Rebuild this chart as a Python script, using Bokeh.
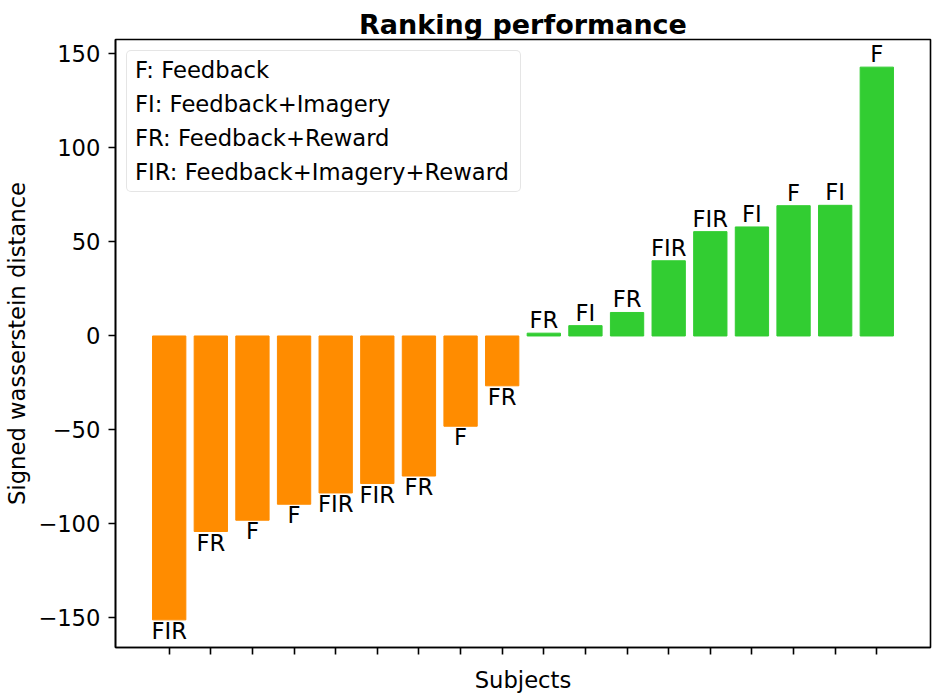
from bokeh.plotting import figure
from bokeh.models import Range1d, FixedTicker, Legend, LegendItem, ColumnDataSource
from bokeh.core.properties import value
from bokeh.embed import file_html
from bokeh.resources import INLINE

# ---- data ----
subjects = list(range(18))
distances = [-151, -104, -98, -89.5, -83.5, -78.5, -74.5, -48, -26.5,
             1.5, 5.5, 12.5, 40, 55.5, 58, 69.3, 69.5, 143]
groups = ["FIR", "FR", "F", "F", "FIR", "FIR", "FR", "F", "FR",
          "FR", "FI", "FR", "FIR", "FIR", "FI", "F", "FI", "F"]
legend_labels = ["F: Feedback", "FI: Feedback+Imagery",
                 "FR: Feedback+Reward", "FIR: Feedback+Imagery+Reward"]
y_ticks = [-150, -100, -50, 0, 50, 100, 150]

NEG = "#FF8C00"
POS = "#32CD32"
FONT = "DejaVu Sans"
FS = "22.7px"

colors = [NEG if v < 0 else POS for v in distances]

# matplotlib-style 5% margins
lo, hi = min(distances), max(distances)
pad = (hi - lo) * 0.05
xlo, xhi = -0.4, len(subjects) - 1 + 0.4
xpad = (xhi - xlo) * 0.05

p = figure(frame_width=815, frame_height=608,
           x_range=Range1d(xlo - xpad, xhi + xpad),
           y_range=Range1d(lo - pad, hi + pad),
           output_backend="svg", toolbar_location=None,
           min_border_left=115, min_border_top=39,
           min_border_right=3, min_border_bottom=40,
           title="Ranking performance")

p.title.align = "center"
p.title.text_font = FONT
p.title.text_font_size = "27px"
p.title.text_font_style = "bold"
p.title.text_color = "black"
p.title.standoff = 0
p.title.offset = 0

src = ColumnDataSource(dict(x=subjects, top=distances, color=colors, label=groups))
p.vbar(x="x", top="top", width=0.8, fill_color="color", line_color="color", source=src)

neg = ColumnDataSource(dict(x=[s for s, v in zip(subjects, distances) if v < 0],
                            y=[v for v in distances if v < 0],
                            t=[g for g, v in zip(groups, distances) if v < 0]))
pos = ColumnDataSource(dict(x=[s for s, v in zip(subjects, distances) if v >= 0],
                            y=[v for v in distances if v >= 0],
                            t=[g for g, v in zip(groups, distances) if v >= 0]))
p.text(x="x", y="y", text="t", source=neg, text_align="center", text_baseline="top",
       y_offset=-2,
       text_font=value(FONT), text_font_size=FS, text_color="black")
p.text(x="x", y="y", text="t", source=pos, text_align="center", text_baseline="bottom",
       text_font=value(FONT), text_font_size=FS, text_color="black")

# legend (text only)
items = []
for lab in legend_labels:
    r = p.scatter(x=[], y=[], alpha=0)
    items.append(LegendItem(label=lab, renderers=[r]))
leg = Legend(items=items, location="top_left")
leg.glyph_width = 0
leg.label_standoff = 2
leg.label_width = 379
leg.label_text_font = FONT
leg.label_text_font_size = FS
leg.label_text_color = "black"
leg.margin = 11
leg.padding = 6
leg.spacing = 8
leg.border_line_color = "#cccccc"
leg.border_line_width = 1.5
leg.background_fill_alpha = 0.8
if "border_radius" in Legend.properties():
    leg.border_radius = 5
p.add_layout(leg)

# axes
p.xgrid.visible = False
p.ygrid.visible = False
p.outline_line_color = "black"
p.outline_line_width = 1.6

p.xaxis.ticker = FixedTicker(ticks=subjects)
p.xaxis.major_label_overrides = {s: "" for s in subjects}
p.xaxis.major_label_text_font_size = "1px"
p.xaxis.major_label_standoff = 0
p.xaxis.axis_label = "Subjects"
p.xaxis.axis_label_standoff = 12

p.yaxis.ticker = FixedTicker(ticks=y_ticks)
p.yaxis.major_label_overrides = {t: str(t).replace("-", "\u2212") for t in y_ticks}
p.yaxis.axis_label = "Signed wasserstein distance"
p.yaxis.axis_label_standoff = 5
p.yaxis.major_label_standoff = 8

for ax in (p.xaxis[0], p.yaxis[0]):
    ax.axis_line_color = "black"
    ax.axis_line_width = 1.6
    ax.major_tick_line_color = "black"
    ax.major_tick_line_width = 1.6
    ax.major_tick_out = 7
    ax.major_tick_in = 0
    ax.minor_tick_line_color = None
    ax.major_label_text_font = FONT
    ax.axis_label_text_font = FONT
    ax.axis_label_text_font_size = FS
    ax.axis_label_text_font_style = "normal"
    ax.axis_label_text_color = "black"
    ax.major_label_text_color = "black"
p.yaxis.major_label_text_font_size = FS

open("out.html", "w").write(file_html(p, INLINE))
